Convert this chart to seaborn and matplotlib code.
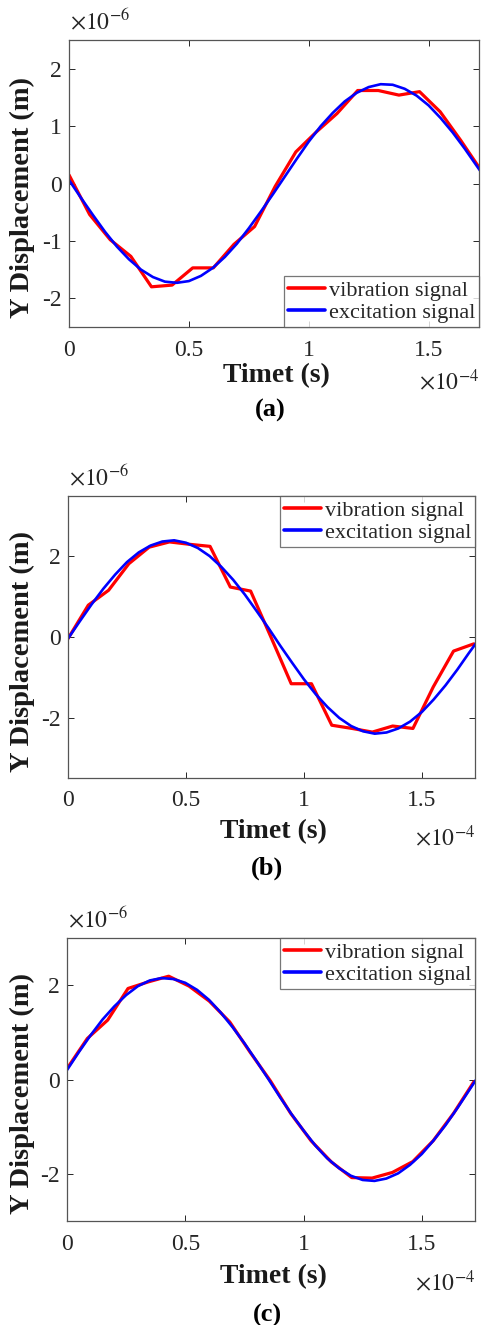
import numpy as np
import pandas as pd
import matplotlib
matplotlib.use("Agg")
import matplotlib.pyplot as plt
import seaborn as sns
from matplotlib.ticker import FixedLocator, FuncFormatter

# ---------------- data (x in 1e-4 s, y in 1e-6 m) ----------------
t_vib = [0.0, 0.086, 0.172, 0.258, 0.344, 0.43, 0.516, 0.602, 0.688, 0.774,
         0.86, 0.946, 1.032, 1.118, 1.204, 1.29, 1.376, 1.462, 1.548, 1.634, 1.72]

vib_a = [0.15, -0.54, -0.98, -1.27, -1.80, -1.77, -1.47, -1.47, -1.06, -0.75,
         -0.05, 0.55, 0.90, 1.22, 1.62, 1.62, 1.54, 1.60, 1.25, 0.75, 0.22]
vib_b = [-0.04, 0.79, 1.16, 1.82, 2.23, 2.36, 2.30, 2.25, 1.24, 1.14,
         0.0, -1.16, -1.16, -2.19, -2.27, -2.36, -2.21, -2.27, -1.24, -0.35, -0.17]
vib_c = [0.23, 0.87, 1.26, 1.93, 2.07, 2.19, 1.98, 1.66, 1.22, 0.58,
         -0.03, -0.72, -1.30, -1.75, -2.08, -2.09, -1.97, -1.74, -1.30, -0.72, -0.05]

t_exc = [0.0, 0.05, 0.10, 0.15, 0.20, 0.25, 0.30, 0.35, 0.40, 0.45, 0.50, 0.55,
         0.60, 0.65, 0.70, 0.75, 0.80, 0.85, 0.90, 0.95, 1.00, 1.05, 1.10, 1.15,
         1.20, 1.25, 1.30, 1.35, 1.40, 1.45, 1.50, 1.55, 1.60, 1.65, 1.70, 1.73]

exc_a = [0.06, -0.25, -0.55, -0.84, -1.10, -1.32, -1.50, -1.63, -1.71, -1.73, -1.70, -1.61,
         -1.47, -1.28, -1.05, -0.78, -0.49, -0.19, 0.12, 0.43, 0.73, 1.00, 1.23, 1.43,
         1.58, 1.68, 1.73, 1.72, 1.65, 1.53, 1.36, 1.14, 0.89, 0.61, 0.31, 0.13]
exc_b = [-0.04, 0.39, 0.81, 1.20, 1.55, 1.86, 2.10, 2.27, 2.37, 2.40, 2.34, 2.21,
         2.01, 1.74, 1.42, 1.05, 0.64, 0.22, -0.22, -0.64, -1.05, -1.42, -1.74, -2.01,
         -2.21, -2.34, -2.40, -2.37, -2.27, -2.10, -1.86, -1.55, -1.20, -0.81, -0.39, -0.15]
exc_c = [0.20, 0.58, 0.94, 1.27, 1.55, 1.79, 1.98, 2.10, 2.15, 2.13, 2.05, 1.90,
         1.69, 1.42, 1.11, 0.77, 0.40, 0.02, -0.37, -0.74, -1.08, -1.40, -1.67, -1.88,
         -2.04, -2.13, -2.15, -2.10, -1.99, -1.81, -1.58, -1.29, -0.97, -0.61, -0.23, 0.0]

x_ticks = [0, 0.5, 1, 1.5]
y_ticks_a = [-2, -1, 0, 1, 2]
y_ticks_bc = [-2, 0, 2]
captions = ["(a)", "(b)", "(c)"]
series_names = ["vibration signal", "excitation signal"]

# ---------------- style ----------------
sns.set_style("ticks")
plt.rcParams["font.family"] = ["Liberation Serif", "DejaVu Serif"]
plt.rcParams["mathtext.fontset"] = "stix"

W, H = 485, 1325
fig = plt.figure(figsize=(W / 100, H / 100), dpi=100)

panels = [
    dict(box=(69, 479, 40, 327), vib=vib_a, exc=exc_a, ylim=2.5, yt=y_ticks_a,
         xmax=1.71, loc="lower right", cap_dy=83, lab_dy=49),
    dict(box=(68, 475, 496, 778), vib=vib_b, exc=exc_b, ylim=3.5, yt=y_ticks_bc,
         xmax=1.725, loc="upper right", cap_dy=90, lab_dy=54),
    dict(box=(67, 475, 938, 1221), vib=vib_c, exc=exc_c, ylim=3.0, yt=y_ticks_bc,
         xmax=1.725, loc="upper right", cap_dy=94, lab_dy=56),
]

edge = "#262626"
for i, p in enumerate(panels):
    l, r, t, b = p["box"]
    ax = fig.add_axes([l / W, 1 - b / H, (r - l) / W, (b - t) / H])
    df_v = pd.DataFrame({"t": t_vib, "y": p["vib"]})
    df_e = pd.DataFrame({"t": t_exc, "y": p["exc"]})
    sns.lineplot(data=df_v, x="t", y="y", ax=ax, color="#ff0000", lw=2.3,
                 label=series_names[0], sort=False)
    sns.lineplot(data=df_e, x="t", y="y", ax=ax, color="#0000ff", lw=1.9,
                 label=series_names[1], sort=False)
    ax.set_xlim(0, p["xmax"])
    ax.set_ylim(-p["ylim"], p["ylim"])
    ax.xaxis.set_major_locator(FixedLocator(x_ticks))
    ax.yaxis.set_major_locator(FixedLocator(p["yt"]))
    ax.xaxis.set_major_formatter(FuncFormatter(lambda v, pos: f"{v:g}"))
    ax.yaxis.set_major_formatter(FuncFormatter(lambda v, pos: f"{v:g}"))
    ax.tick_params(direction="in", top=True, right=True, length=4, width=0.7,
                   colors=edge, labelsize=17)
    ax.tick_params(axis="x", pad=9)
    ax.tick_params(axis="y", pad=5)
    for s in ax.spines.values():
        s.set_color("#555555")
        s.set_linewidth(0.9)
    ax.set_xlabel("")
    ax.set_ylabel("")

    leg = ax.legend(loc=p["loc"], fontsize=16, frameon=True, fancybox=False,
                    borderaxespad=0, borderpad=0.18, labelspacing=0.08,
                    handlelength=1.7, handletextpad=0.15)
    leg.get_frame().set_edgecolor("#555555")
    leg.get_frame().set_linewidth(0.9)
    for line in leg.get_lines():
        line.set_linewidth(2.6)

    cx = (l + r) / 2
    fig.text((cx + 2) / W, 1 - (b + p["lab_dy"]) / H, "Timet (s)", ha="center", va="center",
             fontsize=20, fontweight="bold", color="#1a1a1a")
    fig.text(22 / W, 1 - ((t + b) / 2 + 14) / H, "Y Displacement (m)", ha="center",
             va="center", rotation=90, fontsize=20.5, fontweight="bold", color="#1a1a1a")
    fig.text((cx - 4) / W, 1 - (b + p["cap_dy"]) / H, captions[i], ha="center", va="center",
             fontsize=19, fontweight="bold", color="#000000")
    fig.text(r / W, 1 - (b + p["lab_dy"] + 6) / H, r"$\times10^{-4}$", ha="right",
             va="center", fontsize=17, color=edge)
    fig.text((l + 1) / W, 1 - (t - 6) / H, r"$\times10^{-6}$", ha="left",
             va="bottom", fontsize=17, color=edge)

fig.savefig("out.png", dpi=100, facecolor="white")
